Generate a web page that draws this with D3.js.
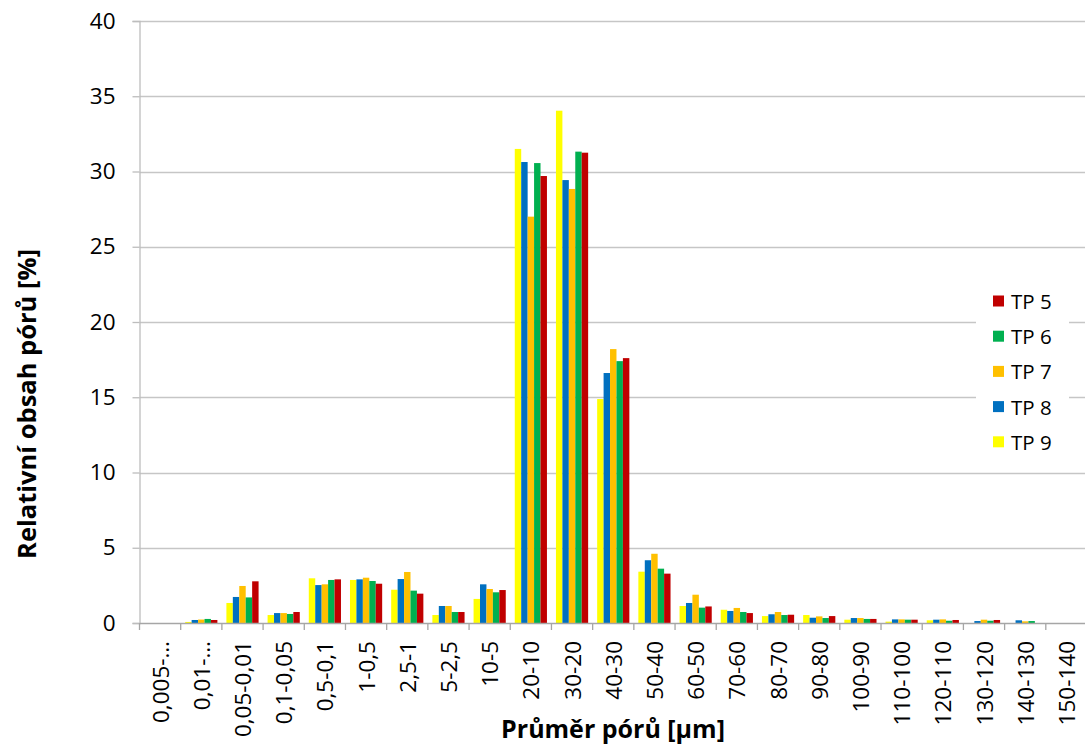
<!DOCTYPE html>
<html><head><meta charset="utf-8">
<script src="https://cdn.jsdelivr.net/npm/d3@7"></script>
<style>body{margin:0;background:#fff}svg{display:block;font-family:"Open Sans",sans-serif}</style>
</head><body><svg id="c" width="1085" height="747"></svg>
<script>
const categories = ["0,005-…","0,01-…","0,05-0,01","0,1-0,05","0,5-0,1","1-0,5","2,5-1","5-2,5","10-5","20-10","30-20","40-30","50-40","60-50","70-60","80-70","90-80","100-90","110-100","120-110","130-120","140-130","150-140"];
const tp9 = [0,0.07,1.33,0.53,2.97,2.86,2.21,0.53,1.6,31.5,34.04,14.88,3.41,1.13,0.88,0.46,0.53,0.22,0.09,0.18,0,0,0];
const tp8 = [0,0.2,1.73,0.66,2.52,2.9,2.92,1.13,2.57,30.63,29.43,16.61,4.17,1.33,0.8,0.58,0.35,0.33,0.24,0.22,0.13,0.18,0];
const tp7 = [0,0.23,2.46,0.66,2.57,3.01,3.39,1.13,2.26,27.0,28.84,18.2,4.6,1.88,1.0,0.73,0.44,0.33,0.24,0.24,0.22,0.11,0];
const tp6 = [0,0.27,1.7,0.6,2.86,2.79,2.15,0.73,2.04,30.56,31.32,17.4,3.61,1.02,0.73,0.53,0.33,0.27,0.22,0.15,0.15,0.13,0];
const tp5 = [0,0.2,2.77,0.73,2.9,2.61,1.95,0.73,2.19,29.7,31.25,17.6,3.28,1.1,0.66,0.55,0.46,0.27,0.22,0.2,0.2,0,0];
const seriesNames = ["TP 9","TP 8","TP 7","TP 6","TP 5"];
const seriesColors = ["#FFFF00","#0070C0","#FFC000","#00B050","#C00000"];
const yTicks = [0,5,10,15,20,25,30,35,40];

const series = [tp9,tp8,tp7,tp6,tp5].map((v,i)=>({name:seriesNames[i],color:seriesColors[i],values:v}));
const svg = d3.select("#c");
const L=139.5, R=1087, T=21, B=623;
const x = d3.scaleBand().domain(categories).range([L,R]).paddingInner(0).paddingOuter(0);
const inner = d3.scaleBand().domain(seriesNames).range([0,x.bandwidth()]).paddingOuter(0.7).paddingInner(0);
const y = d3.scaleLinear().domain([0,40]).range([B,T]);

// gridlines
svg.append("g").selectAll("line").data(yTicks.filter(d=>d>0)).join("line")
  .attr("x1",L).attr("x2",R).attr("y1",d=>Math.round(y(d))+0.5).attr("y2",d=>Math.round(y(d))+0.5)
  .attr("stroke","#c6c6c6").attr("stroke-width",1.3);

// bars
const g = svg.append("g");
series.forEach(s=>{
  g.append("g").selectAll("rect").data(s.values.map((v,i)=>({c:categories[i],v}))).join("rect")
    .attr("x",d=>x(d.c)+inner(s.name)).attr("width",inner.bandwidth())
    .attr("y",d=>y(d.v)).attr("height",d=>B-y(d.v))
    .attr("fill",s.color);
});

// y axis
const ya = svg.append("g").attr("transform",`translate(${L},0)`)
  .call(d3.axisLeft(y).tickValues(yTicks).tickSize(7).tickPadding(17).tickFormat(d3.format("d")));
ya.select(".domain").attr("stroke","#bdbdbd").attr("stroke-width",1.3);
ya.selectAll(".tick line").attr("stroke","#bdbdbd").attr("stroke-width",1.3);
ya.selectAll("text").attr("font-size",22.5).attr("fill","#000").attr("font-family","Open Sans");

// x axis
const xa = svg.append("g").attr("transform",`translate(0,${B})`)
  .call(d3.axisBottom(x).tickSize(0).tickPadding(0));
xa.select(".domain").attr("stroke","#a6a6a6").attr("stroke-width",1.3);
xa.selectAll(".tick text").attr("font-size",22.5).attr("fill","#000").attr("font-family","Open Sans")
  .attr("text-anchor","end").attr("dominant-baseline","central")
  .attr("transform","translate(0,18) rotate(-90)").attr("dy",null).attr("y",0);
// boundary ticks
svg.append("g").selectAll("line").data(d3.range(categories.length+1)).join("line")
  .attr("x1",i=>L+i*x.bandwidth()).attr("x2",i=>L+i*x.bandwidth())
  .attr("y1",B).attr("y2",B+7).attr("stroke","#a6a6a6").attr("stroke-width",1.3);

// axis titles
svg.append("text").attr("transform","translate(26,404) rotate(-90)")
  .attr("text-anchor","middle").attr("dominant-baseline","central")
  .attr("font-weight","bold").attr("font-size",25.5).text("Relativní obsah pórů [%]");
svg.append("text").attr("x",613).attr("y",738).attr("text-anchor","middle")
  .attr("font-weight","bold").attr("font-size",25).text("Průměr pórů [µm]");

// legend
const lg = svg.append("g");
lg.append("rect").attr("x",976).attr("y",283).attr("width",93).attr("height",177).attr("fill","#fff");
const legendItems = series.slice().reverse();
legendItems.forEach((s,i)=>{
  const cy = 301 + i*35.2;
  lg.append("rect").attr("x",993).attr("y",cy-5.5).attr("width",11).attr("height",11).attr("fill",s.color);
  lg.append("text").attr("x",1011).attr("y",cy).attr("dominant-baseline","central")
    .attr("font-size",20.5).attr("fill","#000").text(s.name);
});
</script></body></html>
